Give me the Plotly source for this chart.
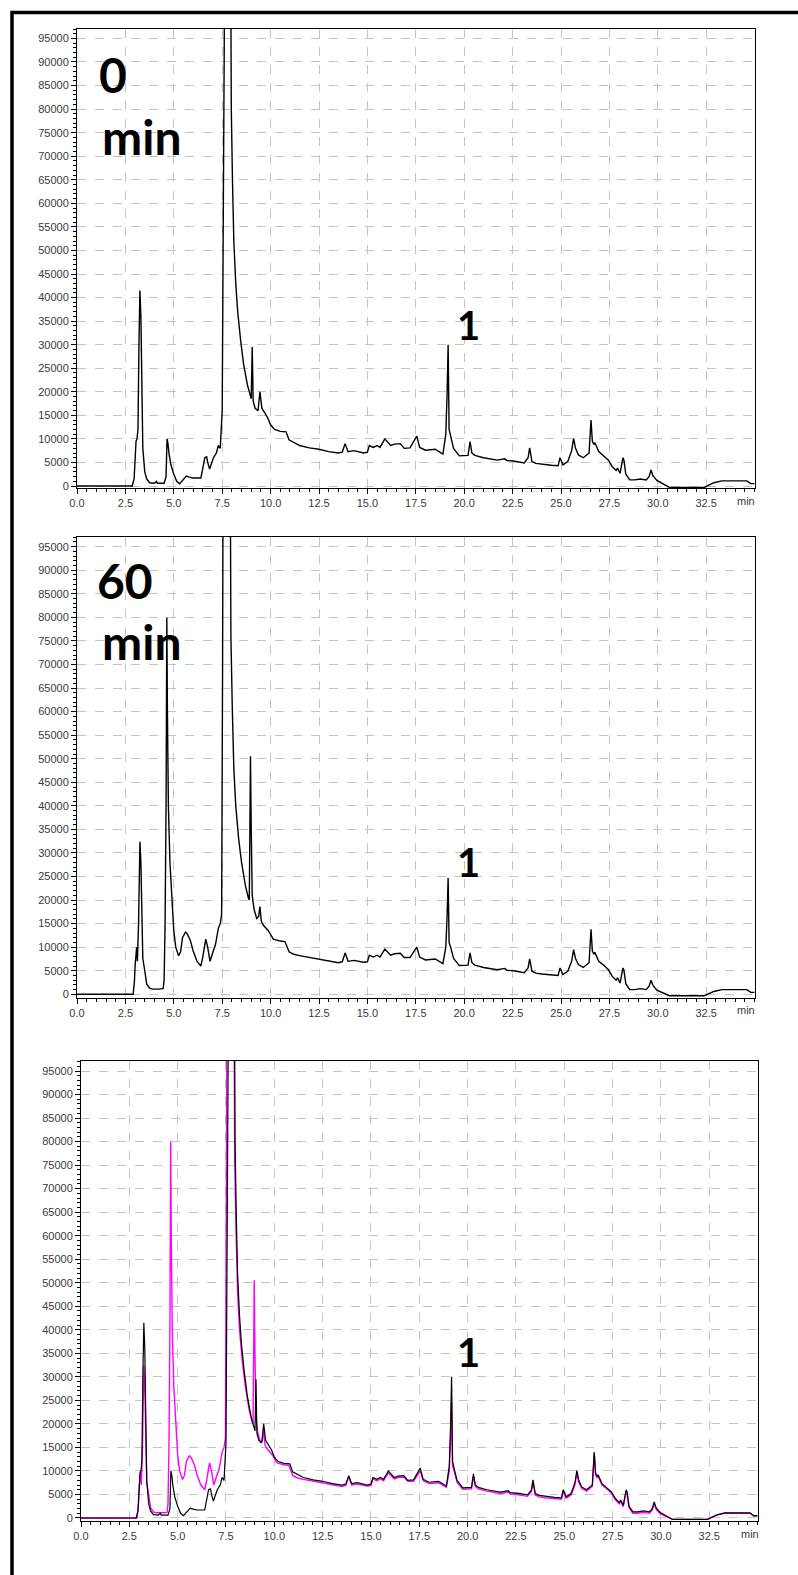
import plotly.graph_objects as go

W, H = 798, 1575

# ---------------- data ----------------
t_0min = [0.0, 2.85, 2.95, 3.0, 3.05, 3.1, 3.15, 3.2, 3.25, 3.3, 3.35, 3.4, 3.5, 3.6, 3.75, 4.0, 4.1, 4.15,
          4.5, 4.6, 4.65, 4.7, 4.75, 4.85, 5.0, 5.15, 5.3, 5.45, 5.65, 5.8, 6.0, 6.4, 6.5, 6.6, 6.7, 6.75,
          6.85, 6.95, 7.05, 7.2, 7.3, 7.4, 7.5, 7.56, 7.62, 7.75, 7.9, 7.95, 7.97, 8.03, 8.1, 8.2, 8.3,
          8.45, 8.6, 8.8, 8.95, 9.0, 9.05, 9.1, 9.2, 9.35, 9.45, 9.55, 9.7, 9.85, 10.0, 10.2, 10.5, 10.8,
          10.95, 11.2, 11.5, 12.0, 12.5, 13.0, 13.5, 13.7, 13.85, 14.0, 14.3, 14.8, 15.0, 15.1, 15.3, 15.5,
          15.65, 15.9, 16.2, 16.4, 16.7, 16.9, 17.2, 17.55, 17.7, 18.0, 18.5, 18.9, 19.05, 19.12, 19.17,
          19.22, 19.3, 19.45, 19.75, 20.2, 20.3, 20.4, 20.55, 21.0, 21.7, 22.1, 22.2, 22.55, 23.1, 23.3,
          23.38, 23.5, 23.7, 24.0, 24.5, 24.85, 24.95, 25.1, 25.35, 25.55, 25.65, 25.75, 25.9, 26.15,
          26.45, 26.55, 26.62, 26.7, 26.75, 26.95, 27.2, 27.45, 27.65, 27.85, 27.92, 28.05, 28.2, 28.25,
          28.35, 28.55, 28.8, 29.1, 29.4, 29.55, 29.65, 29.75, 29.95, 30.2, 30.6, 32.4, 32.9, 33.3, 34.6,
          34.8, 35.0]
y_0min = [0, 0, 1500, 5000, 9500, 10000, 12000, 30000, 41500, 36000, 18000, 8000, 3000, 1500, 700, 600,
          1000, 600, 600, 2000, 10000, 9000, 7000, 4500, 2500, 1000, 500, 1200, 2100, 1900, 1700, 1700,
          3500, 6000, 6200, 5000, 3600, 5000, 6000, 7000, 8600, 8000, 16000, 60000, 160000, 200000,
          160000, 100000, 80000, 65000, 52000, 43000, 37000, 31000, 26000, 21500, 19000, 18500, 29500,
          18000, 16500, 16000, 20000, 16500, 15500, 14500, 13000, 12000, 11600, 11500, 9800, 9200, 8600,
          8100, 7800, 7300, 7000, 7200, 9000, 7300, 7500, 7000, 7200, 8600, 8200, 8600, 8200, 10000, 8600,
          8900, 9000, 8000, 8100, 10600, 8200, 7600, 7800, 6800, 11000, 20000, 30000, 12000, 10500, 8000,
          6400, 6500, 9400, 7000, 6500, 6000, 5500, 5800, 5400, 5300, 4900, 6000, 8100, 5200, 4800, 4600,
          4400, 4300, 6000, 4500, 5200, 7500, 10100, 8000, 6600, 6000, 7000, 14000, 9500, 8800, 9200,
          7300, 6500, 5500, 4100, 3300, 3800, 2700, 6000, 5500, 2500, 1300, 1300, 1500, 1300, 2000, 3400,
          2200, 1200, 600, -300, -300, 700, 1100, 1100, 500, 500]

t_60min = [0.0, 2.9, 2.97, 3.0, 3.08, 3.12, 3.18, 3.25, 3.3, 3.35, 3.4, 3.5, 3.6, 3.75, 3.9, 4.2, 4.45,
           4.5, 4.55, 4.6, 4.64, 4.67, 4.72, 4.8, 4.9, 5.0, 5.1, 5.25, 5.35, 5.45, 5.6, 5.7, 5.85, 6.0,
           6.2, 6.4, 6.5, 6.65, 6.75, 6.87, 7.0, 7.15, 7.3, 7.4, 7.47, 7.52, 7.6, 7.75, 7.88, 7.92, 7.95,
           8.02, 8.1, 8.2, 8.35, 8.5, 8.7, 8.85, 8.9, 8.93, 8.96, 9.0, 9.05, 9.15, 9.28, 9.38, 9.45, 9.52,
           9.62, 9.88, 10.14, 10.5, 10.74, 10.96, 11.2, 11.5, 12.0, 12.5, 13.0, 13.5, 13.7, 13.85, 14.0,
           14.3, 14.8, 15.0, 15.1, 15.3, 15.5, 15.65, 15.9, 16.2, 16.4, 16.7, 16.9, 17.2, 17.55, 17.7,
           18.0, 18.5, 18.9, 19.05, 19.12, 19.17, 19.22, 19.3, 19.45, 19.75, 20.2, 20.3, 20.4, 20.55,
           21.0, 21.7, 22.1, 22.2, 22.55, 23.1, 23.3, 23.38, 23.5, 23.7, 24.0, 24.5, 24.85, 24.95, 25.1,
           25.35, 25.55, 25.65, 25.75, 25.9, 26.15, 26.45, 26.55, 26.62, 26.7, 26.75, 26.95, 27.2, 27.45,
           27.65, 27.85, 27.92, 28.05, 28.2, 28.25, 28.35, 28.55, 28.8, 29.1, 29.4, 29.55, 29.65, 29.75,
           29.95, 30.2, 30.6, 32.4, 32.9, 33.3, 34.6, 34.8, 35.0]
y_60min = [0, 0, 3000, 6000, 10000, 7000, 15000, 32400, 28000, 12000, 7600, 5000, 2200, 1300, 1100, 1100,
           1200, 3000, 15000, 40000, 80000, 60000, 40000, 28000, 20000, 13500, 10000, 8200, 9000, 12000,
           13200, 12800, 11500, 9200, 7000, 6000, 8000, 11700, 10000, 7000, 8700, 10500, 14000, 15000,
           17000, 70000, 200000, 250000, 150000, 90000, 76000, 61000, 48000, 40000, 33000, 28000, 23000,
           20500, 20000, 35000, 50500, 35000, 21000, 18000, 16100, 16500, 18600, 15500, 14700, 13500,
           11700, 11300, 11200, 9000, 8500, 8200, 7800, 7500, 7000, 6700, 6900, 8800, 7000, 7200, 6800,
           6900, 8300, 7900, 8300, 7900, 9600, 8300, 8600, 8700, 7800, 7800, 10000, 7900, 7300, 7500,
           6500, 10000, 17000, 24700, 11000, 10000, 7600, 6100, 6200, 8800, 6700, 6200, 5700, 5200, 5500,
           5100, 5000, 4600, 5600, 7500, 4900, 4500, 4300, 4100, 4000, 5600, 4200, 4900, 7000, 9500, 7600,
           6300, 5700, 6700, 13800, 9200, 8500, 8900, 7000, 6200, 5200, 3800, 3000, 3500, 2400, 5600,
           5100, 2200, 1000, 1000, 1200, 1000, 1700, 3000, 1900, 900, 400, -300, -300, 600, 1000, 1000,
           400, 400]

x_tick_vals = [0.0, 2.5, 5.0, 7.5, 10.0, 12.5, 15.0, 17.5, 20.0, 22.5, 25.0, 27.5, 30.0, 32.5]
x_tick_text = ["0.0", "2.5", "5.0", "7.5", "10.0", "12.5", "15.0", "17.5", "20.0", "22.5", "25.0",
               "27.5", "30.0", "32.5"]
y_tick_vals = [0, 5000, 10000, 15000, 20000, 25000, 30000, 35000, 40000, 45000, 50000, 55000, 60000,
               65000, 70000, 75000, 80000, 85000, 90000, 95000]
y_tick_text = ["0", "5000", "10000", "15000", "20000", "25000", "30000", "35000", "40000", "45000",
               "50000", "55000", "60000", "65000", "70000", "75000", "80000", "85000", "90000", "95000"]
panel_labels = [("0", "min"), ("60", "min"), None]
peak_label = "1"
x_unit = "min"

# ---------------- layout helpers ----------------
def px(x, y):
    return x / W, 1 - y / H

# panels: (left, right, top, bottom) in pixels, y range
panels = [
    dict(l=77, r=754.6, t=29, b=488, yr=[-420, 97000]),
    dict(l=77, r=754.6, t=537, b=997.7, yr=[-720, 97060]),
    dict(l=81, r=757.6, t=1061, b=1521, yr=[-640, 97125]),
]

fig = go.Figure()
tickfont = dict(family="Liberation Sans, Arial", size=11, color="#3a3a3a")

for i, p in enumerate(panels, start=1):
    xa = "x" if i == 1 else f"x{i}"
    ya = "y" if i == 1 else f"y{i}"
    if i == 1:
        fig.add_trace(go.Scatter(x=t_0min, y=y_0min, mode="lines", line=dict(color="black", width=1.4),
                                 xaxis=xa, yaxis=ya, showlegend=False))
    elif i == 2:
        fig.add_trace(go.Scatter(x=t_60min, y=y_60min, mode="lines", line=dict(color="black", width=1.4),
                                 xaxis=xa, yaxis=ya, showlegend=False))
    else:
        fig.add_trace(go.Scatter(x=t_60min, y=y_60min, mode="lines", line=dict(color="#ff00ff", width=1.4),
                                 xaxis=xa, yaxis=ya, showlegend=False))
        fig.add_trace(go.Scatter(x=t_0min, y=y_0min, mode="lines", line=dict(color="black", width=1.2),
                                 xaxis=xa, yaxis=ya, showlegend=False))

    xkey = "xaxis" if i == 1 else f"xaxis{i}"
    ykey = "yaxis" if i == 1 else f"yaxis{i}"
    fig.update_layout(**{
        xkey: dict(domain=[p["l"] / W, p["r"] / W], anchor=ya, range=[0, 35], automargin=False,
                   tickmode="array", tickvals=x_tick_vals, ticktext=x_tick_text,
                   ticks="outside", ticklen=5, tickwidth=1, tickcolor="black",
                   showline=True, linecolor="black", linewidth=1, mirror=True,
                   showgrid=True, gridcolor="#c4c4c4", griddash="dash", gridwidth=1,
                   zeroline=False, tickfont=tickfont, fixedrange=True,
                   minor=dict(tick0=0, dtick=0.5, ticks="outside", ticklen=3, tickcolor="black",
                              showgrid=False)),
        ykey: dict(domain=[1 - p["b"] / H, 1 - p["t"] / H], anchor=xa, range=p["yr"], automargin=False,
                   tickmode="array", tickvals=y_tick_vals, ticktext=y_tick_text,
                   ticks="outside", ticklen=5, tickwidth=1, tickcolor="black",
                   showline=True, linecolor="black", linewidth=1, mirror=True,
                   showgrid=True, gridcolor="#c4c4c4", griddash="dash", gridwidth=1,
                   zeroline=False, tickfont=tickfont, fixedrange=True,
                   minor=dict(tick0=0, dtick=1000, ticks="outside", ticklen=3, tickcolor="black",
                              showgrid=False)),
    })

annotations = []
big = dict(family="Lato, Open Sans, sans-serif", size=48, color="black")
# panel labels
for (txt1, txt2), (cx1, cy1, cx2, cy2) in [
        (panel_labels[0], (113, 74, 141, 136)),
        (panel_labels[1], (125, 580, 141, 641))]:
    x1, y1 = px(cx1, cy1)
    x2, y2 = px(cx2, cy2)
    annotations.append(dict(text=f"<b>{txt1}</b>", x=x1, y=y1, xref="paper", yref="paper",
                            showarrow=False, font=big, xanchor="center", yanchor="middle"))
    annotations.append(dict(text=f"<b>{txt2}</b>", x=x2, y=y2, xref="paper", yref="paper",
                            showarrow=False, font=big, xanchor="center", yanchor="middle"))
# peak labels
for cy in (325, 862, 1352):
    x1, y1 = px(468, cy)
    annotations.append(dict(text=f"<b>{peak_label}</b>", x=x1, y=y1, xref="paper", yref="paper",
                            showarrow=False, font=dict(family="Lato, Open Sans, sans-serif", size=40,
                                                       color="black"),
                            xanchor="center", yanchor="middle"))
# x unit labels
for cx, cy in ((745.5, 501), (745.5, 1010), (750, 1534)):
    x1, y1 = px(cx, cy)
    annotations.append(dict(text=x_unit, x=x1, y=y1, xref="paper", yref="paper", showarrow=False,
                            font=tickfont, xanchor="center", yanchor="middle"))

# outer frame (left and top edges visible)
fx0, fy0 = px(12, 12.5)
fx1, fy1 = px(820, 1600)
shapes = [dict(type="rect", xref="paper", yref="paper", x0=fx0, y0=fy1, x1=fx1, y1=fy0,
               line=dict(color="black", width=3.5), layer="above")]

fig.update_layout(width=W, height=H, margin=dict(l=0, r=0, t=0, b=0, pad=0),
                  paper_bgcolor="white", plot_bgcolor="white",
                  annotations=annotations, shapes=shapes, showlegend=False)

fig.write_html("out.html")
